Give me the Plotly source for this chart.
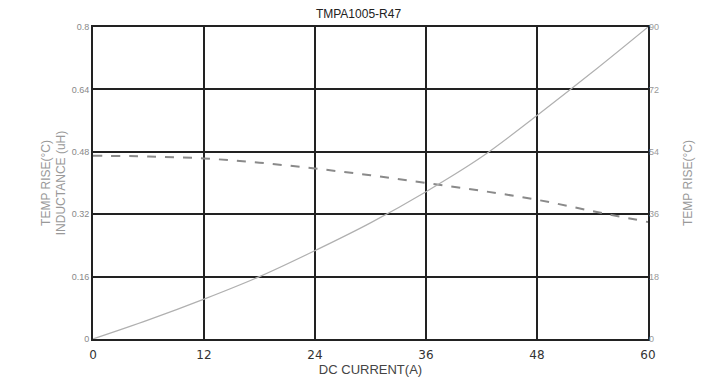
import plotly.graph_objects as go

current_a = [0, 6, 12, 18, 24, 30, 36, 42, 48, 54, 60]
inductance_uh = [0.470, 0.468, 0.463, 0.452, 0.437, 0.420, 0.400, 0.380, 0.357, 0.328, 0.300]
temp_rise_c = [0, 5.5, 11.5, 18, 25.5, 33.5, 42.5, 52.5, 64.5, 77, 90]

x_ticks = [0, 12, 24, 36, 48, 60]
y_ticks = [0, 0.16, 0.32, 0.48, 0.64, 0.8]
y_tick_text = ["0", "0.16", "0.32", "0.48", "0.64", "0.8"]
y2_ticks = [0, 18, 36, 54, 72, 90]

fig = go.Figure()
fig.add_trace(go.Scatter(x=current_a, y=inductance_uh, mode="lines", line=dict(color="#8a8a8a", width=2, dash="dash"),
                         line_shape="spline", showlegend=False))
fig.add_trace(go.Scatter(x=current_a, y=temp_rise_c, mode="lines", yaxis="y2", line=dict(color="#b0b0b0", width=1.2),
                         line_shape="spline", showlegend=False))

fig.update_layout(
    width=701, height=381,
    margin=dict(l=85, r=61, t=19, b=50, autoexpand=False),
    paper_bgcolor="white", plot_bgcolor="white",
    title=dict(text="TMPA1005-R47", x=0.5, xanchor="center", y=0.995, yanchor="top",
               font=dict(family="Liberation Sans, Arial", size=12, color="#222")),
    xaxis=dict(range=[0, 60], tickvals=x_ticks, showgrid=True, gridcolor="#222", gridwidth=2,
               showline=True, linecolor="#222", linewidth=2, mirror=True, zeroline=False, automargin=False,
               ticks="", ticklabelstandoff=4, tickfont=dict(family="DejaVu Sans", size=12, color="#333"),
               title=dict(text="DC CURRENT(A)", standoff=2,
                          font=dict(family="Liberation Sans, Arial", size=13, color="#444"))),
    yaxis=dict(range=[0, 0.8], tickvals=y_ticks, ticktext=y_tick_text, showgrid=True, gridcolor="#222", gridwidth=2,
               showline=True, linecolor="#222", linewidth=2, mirror=True, zeroline=False, automargin=False,
               ticks="", tickfont=dict(family="Liberation Sans, Arial", size=9, color="#888"),
               title=dict(text="TEMP RISE(°C)<br>INDUCTANCE (uH)", standoff=3,
                          font=dict(family="Liberation Sans, Arial", size=12, color="#999"))),
    yaxis2=dict(range=[0, 90], tickvals=y2_ticks, overlaying="y", side="right", showgrid=False,
                zeroline=False, ticks="", automargin=False,
                tickfont=dict(family="Liberation Sans, Arial", size=9, color="#999"),
                title=dict(text="TEMP RISE(°C)", standoff=25,
                           font=dict(family="Liberation Sans, Arial", size=12, color="#999"))),
)

fig.write_html("out.html")
